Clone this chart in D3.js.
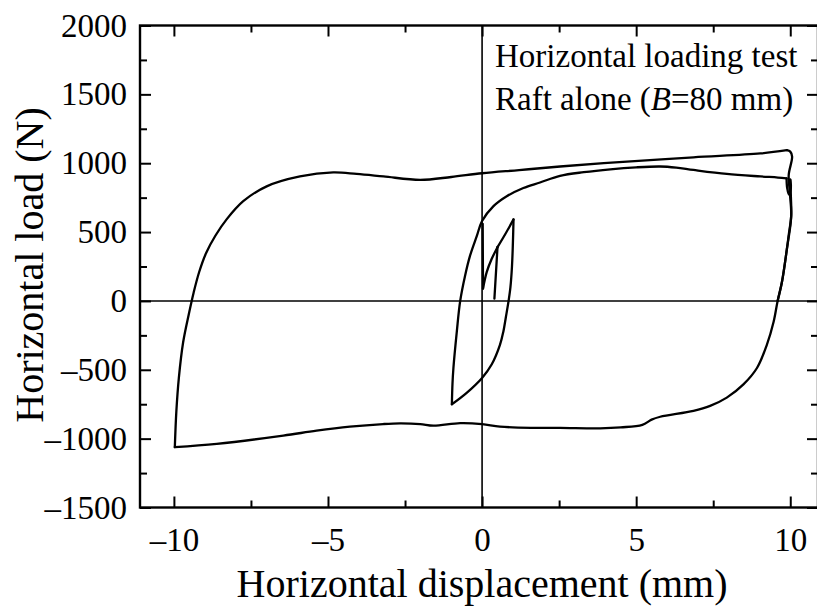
<!DOCTYPE html>
<html>
<head>
<meta charset="utf-8">
<script src="https://cdn.jsdelivr.net/npm/d3@7"></script>
<style>
  html, body { margin: 0; padding: 0; background: #fff; }
  svg { display: block; }
  text { font-family: "Liberation Serif", "Times New Roman", serif; fill: #000; }
</style>
</head>
<body>
<svg id="chart" width="817" height="610"></svg>
<script>
// Horizontal load–displacement record, split into branches [disp (mm), load (N)]
const initialRise   = [[0.02, 560], [0.03, 90]];
const smallLoading  = [[0.03, 90], [0.15, 209], [0.31, 304], [0.5, 390]];
const smallSpike    = [[0.5, 390], [0.40, 17], [0.5, 390]];
const loadingTo1mm  = [[0.5, 390], [0.75, 484], [1.02, 592]];
const unloadTo1mm   = [[1.02, 592], [1.0, 420], [0.97, 250], [0.92, 100], [0.86, 0], [0.77, -120],
                       [0.69, -223], [0.58, -319], [0.31, -462], [0, -559], [-0.5, -667], [-0.98, -750]];
const reloadTo10mm  = [[-0.98, -750], [-0.96, -600], [-0.93, -487], [-0.82, -223], [-0.71, 0],
                       [-0.55, 185], [-0.39, 329], [-0.17, 472], [0, 580], [0.37, 688], [0.80, 760],
                       [1.34, 820], [1.88, 860], [2.53, 908], [3.3, 935], [4.16, 956], [5.0, 970],
                       [5.78, 976], [6.3, 968], [6.86, 951], [7.94, 922], [9.03, 904], [9.6, 896], [9.88, 890]];
const turnAround    = [[9.88, 890], [9.90, 820], [9.96, 772], [10.02, 820], [10.0, 880]];
const unloadToMinus = [[10.0, 880], [10.02, 760], [10.03, 616], [9.95, 480], [9.89, 376], [9.73, 137],
                       [9.59, 0], [9.46, -151], [9.24, -319], [8.92, -487], [8.48, -606], [7.94, -702],
                       [7.40, -762], [6.86, -798], [5.78, -841], [5.5, -862], [5.2, -900], [4.5, -918],
                       [3.83, -925], [2.53, -922], [1.67, -922], [0.58, -913], [0, -894], [-0.71, -887],
                       [-1.58, -906], [-2.01, -894], [-2.66, -889], [-3.21, -894], [-4.29, -913],
                       [-5.37, -942], [-6.45, -978], [-8.61, -1038], [-9.97, -1062]];
const reloadToPlus  = [[-9.97, -1062], [-9.92, -800], [-9.84, -560], [-9.70, -300], [-9.52, -100],
                       [-9.36, 60], [-9.18, 210], [-8.95, 350], [-8.65, 475], [-8.29, 592], [-7.75, 724],
                       [-6.99, 832], [-5.91, 904], [-4.83, 933], [-4.07, 922], [-3.20, 904],
                       [-2.01, 879], [-1.0, 900], [0, 927], [1.2, 950], [2.53, 976], [4.70, 1012],
                       [6.86, 1043], [9.03, 1071], [9.89, 1095]];
const finalUnload   = [[9.89, 1095], [10.0, 1084], [10.06, 1048], [9.95, 915], [9.98, 800],
                       [10.03, 616], [9.89, 376], [9.73, 137], [9.59, 0]];

const branches = [initialRise, smallLoading, smallSpike, loadingTo1mm, unloadTo1mm,
                  reloadTo10mm, turnAround, unloadToMinus, reloadToPlus, finalUnload];

const xMajor = [-10, -5, 0, 5, 10];
const xMinor = [-7.5, -2.5, 2.5, 7.5];
const yMajor = [-1500, -1000, -500, 0, 500, 1000, 1500, 2000];
const yMinor = [-1250, -750, -250, 250, 750, 1250, 1750];

const legendLines = ["Horizontal loading test", "Raft alone ("];
const xTitle = "Horizontal displacement (mm)";
const yTitle = "Horizontal load (N)";

const svg = d3.select("#chart");
const plot = { left: 140, right: 818, top: 25.5, bottom: 507.5 };

const x = d3.scaleLinear().domain([-11.1, 10.9]).range([plot.left, plot.right]);
const y = d3.scaleLinear().domain([-1500, 2000]).range([plot.bottom, plot.top]);

const fmt = v => (v < 0 ? "\u2013" + Math.abs(v) : String(v));

// zero reference lines
svg.append("line")
  .attr("x1", plot.left).attr("x2", plot.right).attr("y1", y(0)).attr("y2", y(0))
  .attr("stroke", "#000").attr("stroke-width", 1.6);
svg.append("line")
  .attr("x1", x(0)).attr("x2", x(0)).attr("y1", plot.top).attr("y2", plot.bottom)
  .attr("stroke", "#000").attr("stroke-width", 1.6);

// curve
const line = d3.line().x(d => x(d[0])).y(d => y(d[1])).curve(d3.curveCatmullRom.alpha(0.5));
svg.append("g").selectAll("path").data(branches).join("path")
  .attr("d", line)
  .attr("fill", "none").attr("stroke", "#000").attr("stroke-width", 2.3)
  .attr("stroke-linejoin", "round").attr("stroke-linecap", "round");

// axes with inward ticks
function styleAxis(g) {
  g.select(".domain").remove();
  g.selectAll(".tick line").attr("stroke", "#000").attr("stroke-width", 2);
}
const fontTick = 33;

svg.append("g").attr("transform", `translate(0,${plot.bottom})`)
  .call(d3.axisBottom(x).tickValues(xMajor).tickSize(-11).tickPadding(20).tickFormat(fmt))
  .call(styleAxis)
  .call(g => g.selectAll("text").attr("font-size", fontTick).attr("font-family", "Liberation Serif"));
svg.append("g").attr("transform", `translate(0,${plot.bottom})`)
  .call(d3.axisBottom(x).tickValues(xMinor).tickSize(-7).tickFormat(""))
  .call(styleAxis);
svg.append("g").attr("transform", `translate(0,${plot.top})`)
  .call(d3.axisTop(x).tickValues(xMajor).tickSize(-11).tickFormat(""))
  .call(styleAxis);
svg.append("g").attr("transform", `translate(0,${plot.top})`)
  .call(d3.axisTop(x).tickValues(xMinor).tickSize(-7).tickFormat(""))
  .call(styleAxis);

svg.append("g").attr("transform", `translate(${plot.left},0)`)
  .call(d3.axisLeft(y).tickValues(yMajor).tickSize(-11).tickPadding(13).tickFormat(fmt))
  .call(styleAxis)
  .call(g => g.selectAll("text").attr("font-size", fontTick).attr("font-family", "Liberation Serif"));
svg.append("g").attr("transform", `translate(${plot.left},0)`)
  .call(d3.axisLeft(y).tickValues(yMinor).tickSize(-7).tickFormat(""))
  .call(styleAxis);
svg.append("g").attr("transform", `translate(${plot.right},0)`)
  .call(d3.axisRight(y).tickValues(yMajor).tickSize(-11).tickFormat(""))
  .call(styleAxis);
svg.append("g").attr("transform", `translate(${plot.right},0)`)
  .call(d3.axisRight(y).tickValues(yMinor).tickSize(-7).tickFormat(""))
  .call(styleAxis);

// frame
svg.append("rect")
  .attr("x", plot.left).attr("y", plot.top)
  .attr("width", plot.right - plot.left).attr("height", plot.bottom - plot.top)
  .attr("fill", "none").attr("stroke", "#000").attr("stroke-width", 2.4);

// legend text
const legend = svg.append("text").attr("font-size", 33);
legend.append("tspan").attr("x", 495).attr("y", 67).text(legendLines[0]);
legend.append("tspan").attr("x", 495).attr("y", 110).text(legendLines[1]);
legend.append("tspan").attr("font-style", "italic").text("B");
legend.append("tspan").text("=80 mm)");

// axis titles
svg.append("text").attr("x", x(0)).attr("y", 597).attr("text-anchor", "middle")
  .attr("font-size", 40).text(xTitle);
svg.append("text").attr("transform", `translate(43,265) rotate(-90)`)
  .attr("text-anchor", "middle").attr("font-size", 40).text(yTitle);
</script>
</body>
</html>
